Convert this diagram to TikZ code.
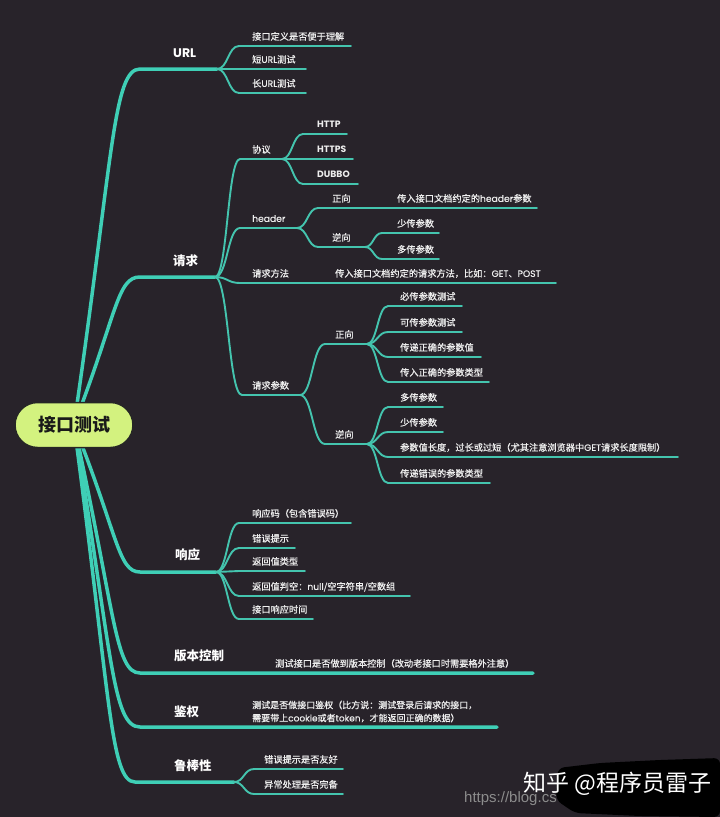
\documentclass[tikz,border=0pt]{standalone}
\usepackage{fontspec}
\setmainfont{Noto Sans CJK SC}
\newfontfamily\cjkmed{Noto Sans CJK SC}[FakeBold=0.7]
\newfontfamily\poppins{Poppins}
\newfontfamily\poppinsmed{Poppins}[FakeBold=0.5]
\newfontfamily\wmfont{Liberation Sans}
\usetikzlibrary{calc}
\definecolor{bg}{HTML}{28232A}
\definecolor{br}{HTML}{3FCFB6}
\definecolor{br2}{HTML}{44C4AE}
\definecolor{pillc}{HTML}{D3F27F}
\definecolor{txt}{HTML}{EEEEEE}
\definecolor{wmgrey}{HTML}{8C8C8C}
\newcommand\latn[1]{{\poppinsmed #1}}
\newcommand\latb[1]{{\poppins\bfseries #1}}
\pgfdeclarelayer{back}
\pgfdeclarelayer{lines}
\pgfsetlayers{back,lines,main}
\newcommand\mmkid[7]{%
  \coordinate (#2a) at (#3,#4);
  \coordinate (#2b) at (#5,#4);
  \draw[l2] (#1) to[sc] (#2a) -- (#2b);
  \node[t2] (#2) at (#6,#4-9.5) {#7};
}
\begin{document}
\begin{tikzpicture}[x=1pt,y=-1pt,
  l1/.style={draw=br,line width=3.5pt,line cap=round},
  l2/.style={draw=br2,line width=1.9pt,line cap=round},
  sc/.style={to path={.. controls ($(\tikztostart)!0.5!(\tikztostart -| \tikztotarget)$) and ($(\tikztotarget)!0.5!(\tikztotarget -| \tikztostart)$) .. (\tikztotarget)}},
  t1/.style={anchor=west,inner sep=0pt,text=white,text height=9pt,text depth=1.5pt,font=\fontsize{12.5}{14}\selectfont\bfseries},
  t2/.style={anchor=west,inner sep=0pt,text=txt,text height=8pt,text depth=1.2pt,font=\cjkmed\fontsize{9.2}{11}\selectfont},
  pillnode/.style={fill=pillc,draw=black!85,line width=1.5pt,minimum width=118pt,minimum height=45pt,rounded corners=22.5pt,inner sep=0pt,text=black!90,font=\fontsize{18}{20}\selectfont\bfseries}
]
\useasboundingbox (0,0) rectangle (720,817);
\begin{pgfonlayer}{back}
\fill[bg] (0,0) rectangle (720,817);
\end{pgfonlayer}

% root
\node[pillnode] (root) at (74,425) {接口测试};

% level-1 anchors
\coordinate (uA) at (140,69);  \coordinate (uS) at (217,69);
\coordinate (qA) at (140,277); \coordinate (qS) at (215,277);
\coordinate (rA) at (140,572); \coordinate (rS) at (216,572);
\coordinate (vA) at (140,673); \coordinate (vS) at (533,673);
\coordinate (jA) at (140,727); \coordinate (jS) at (497,727);
\coordinate (bA) at (135,782); \coordinate (bS) at (234,782);

\begin{pgfonlayer}{lines}
\draw[l1] (root.center) .. controls (113,158) and (113,69) .. (uA) -- (uS);
\draw[l1] (root.center) .. controls (117,314) and (117,277) .. (qA) -- (qS);
\draw[l1] (root.center) .. controls (118,535) and (118,572) .. (rA) -- (rS);
\draw[l1] (root.center) .. controls (115,611) and (115,673) .. (vA) -- (vS);
\draw[l1] (root.center) .. controls (112,652) and (112,727) .. (jA) -- (jS);
\draw[l1] (root.center) .. controls (110,693) and (110,782) .. (bA) -- (bS);
\end{pgfonlayer}

% URL
\node[t1] (url) at (173,54) {\latb{URL}};
\mmkid{uS}{u1}{239}{46}{351}{252}{接口定义是否便于理解}
\mmkid{uS}{u2}{239}{69}{306}{252}{短\latn{URL}测试}
\mmkid{uS}{u3}{239}{93}{306}{252}{长\latn{URL}测试}

% 请求
\node[t1] (req) at (173,262) {请求};
\mmkid{qS}{q1}{240}{159}{282}{252}{协议}
\mmkid{q1b}{q11}{303}{134}{347}{317}{\latb{HTTP}}
\mmkid{q1b}{q12}{303}{159}{353}{317}{\latb{HTTPS}}
\mmkid{q1b}{q13}{303}{184}{358}{317}{\latb{DUBBO}}
\mmkid{qS}{q2}{240}{228}{297}{252}{\latn{header}}
\mmkid{q2b}{q21}{318}{208}{537}{332}{正向}
\node[t2] (q21c) at (397,198.5) {传入接口文档约定的\latn{header}参数};
\mmkid{q2b}{q22}{318}{247}{365}{332}{逆向}
\mmkid{q22b}{q221}{382}{233}{439}{397}{少传参数}
\mmkid{q22b}{q222}{382}{259}{439}{397}{多传参数}
\mmkid{qS}{q3}{240}{283}{556}{252}{请求方法}
\node[t2] (q3c) at (335,273.5) {传入接口文档约定的请求方法，比如：\latn{GET}、\latn{POST}};
\mmkid{qS}{q4}{242}{395}{300}{252}{请求参数}
\mmkid{q4b}{q41}{325}{344}{367}{335}{正向}
\mmkid{q4b}{q42}{325}{444}{367}{335}{逆向}
\mmkid{q41b}{q411}{388}{306}{462}{400}{必传参数测试}
\mmkid{q41b}{q412}{388}{332}{462}{400}{可传参数测试}
\mmkid{q41b}{q413}{388}{357}{481}{400}{传递正确的参数值}
\mmkid{q41b}{q414}{388}{382}{489}{400}{传入正确的参数类型}
\mmkid{q42b}{q421}{388}{407}{443}{400}{多传参数}
\mmkid{q42b}{q422}{388}{432}{443}{400}{少传参数}
\mmkid{q42b}{q423}{388}{457}{678}{400}{参数值长度，过长或过短（尤其注意浏览器中\latn{GET}请求长度限制）}
\mmkid{q42b}{q424}{388}{483}{490}{400}{传递错误的参数类型}

% 响应
\node[t1] (resp) at (175,556) {响应};
\mmkid{rS}{r1}{239}{523}{351}{252}{响应码（包含错误码）}
\mmkid{rS}{r2}{239}{548}{295}{252}{错误提示}
\mmkid{rS}{r3}{239}{571}{305}{252}{返回值类型}
\mmkid{rS}{r4}{239}{596}{410}{252}{返回值判空：\latn{null}/空字符串/空数组}
\mmkid{rS}{r5}{239}{619}{313}{252}{接口响应时间}

% 版本控制
\node[t1] (ver) at (174,657) {版本控制};
\node[t2] (verc) at (275,663.5) {测试接口是否做到版本控制（改动老接口时需要格外注意）};

% 鉴权
\node[t1] (auth) at (174,713) {鉴权};
\node[t2,font=\cjkmed\fontsize{9}{11}\selectfont] (authc1) at (252,705) {测试是否做接口鉴权（比方说：测试登录后请求的接口，};
\node[t2,font=\cjkmed\fontsize{9}{11}\selectfont] (authc2) at (252,718) {需要带上\latn{cookie}或者\latn{token}，才能返回正确的数据）};

% 鲁棒性
\node[t1] (rob) at (174,767) {鲁棒性};
\mmkid{bS}{b1}{254}{769}{343}{264}{错误提示是否友好}
\mmkid{bS}{b2}{254}{794}{343}{264}{异常处理是否完备}

% watermark
\node[anchor=west,inner sep=0pt,text=wmgrey,font=\wmfont\fontsize{15}{16}\selectfont] (wm1) at (464,799) {https://blog.cs};
\fill[black,rounded corners=6pt] (558,768) -- (600,763) -- (660,760) -- (720,758) -- (720,817) -- (640,816) -- (575,813) -- (556,800) -- cycle;
\node[anchor=west,inner sep=0pt,text=white,font=\fontsize{23}{25}\selectfont] (wm2) at (523,784) {知乎 @程序员雷子};
\end{tikzpicture}
\end{document}
